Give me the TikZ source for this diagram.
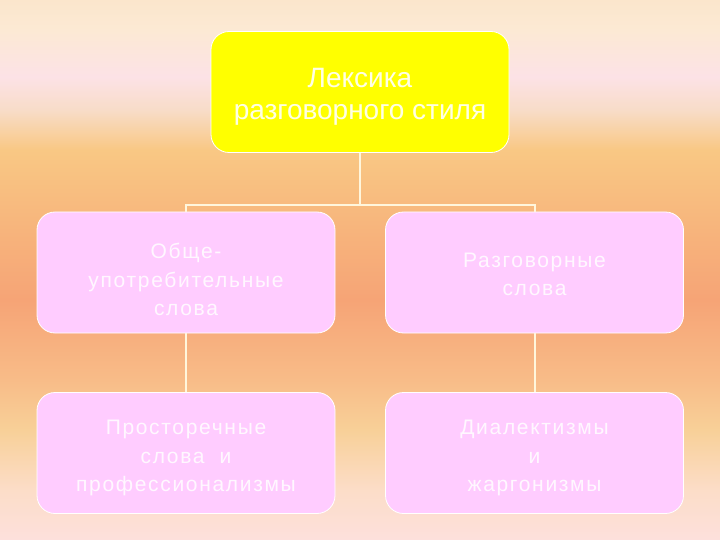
\documentclass[tikz,border=0pt]{standalone}
\usepackage{fontspec}
\setmainfont{Liberation Sans}
\newfontfamily\spacedfont{Liberation Sans}[LetterSpace=8]
\usetikzlibrary{positioning}
\definecolor{gA}{HTML}{FBE6CC}
\definecolor{gB}{HTML}{FCE9D4}
\definecolor{gC}{HTML}{FCE2E6}
\definecolor{gD}{HTML}{F8DCC8}
\definecolor{gE}{HTML}{F9C884}
\definecolor{gF}{HTML}{F7B47C}
\definecolor{gG}{HTML}{F6A476}
\definecolor{gH}{HTML}{F8BC88}
\definecolor{gI}{HTML}{F8D098}
\definecolor{gJ}{HTML}{FCDDC8}
\definecolor{gK}{HTML}{FDE0DC}
\definecolor{boxpink}{HTML}{FFCCFF}
\definecolor{topyellow}{RGB}{255,255,0}
\definecolor{linecol}{HTML}{FFF6DC}
% positions: p = 25 + 50*(540-y)/540
\pgfdeclareverticalshading{bgshade}{100bp}{
  color(0bp)=(gK); color(25bp)=(gK); color(29.63bp)=(gJ); color(35.19bp)=(gI);
  color(39.81bp)=(gH); color(47.22bp)=(gG); color(53.70bp)=(gF); color(61.11bp)=(gE);
  color(64.81bp)=(gD); color(67.87bp)=(gC); color(72.22bp)=(gB); color(75bp)=(gA);
  color(100bp)=(gA)}
\tikzset{
  box/.style={draw=white, line width=0.8pt, rounded corners=18pt, minimum width=298pt,
    minimum height=121pt, inner sep=0pt},
  topbox/.style={box, fill=topyellow},
  pinkbox/.style={box, fill=boxpink},
  toptext/.style={align=center, text=white, text opacity=0.9, inner sep=0pt,
    font=\fontsize{28}{32}\selectfont},
  pinktext/.style={align=center, text=white, text opacity=0.85, inner sep=0pt,
    font=\spacedfont\fontsize{21}{28.5}\selectfont},
  conn/.style={draw=linecol, line width=2pt}
}
\begin{document}
\begin{tikzpicture}[x=1pt,y=-1pt]
\useasboundingbox (0,0) rectangle (720,540);
\shade[shading=bgshade] (0,0) rectangle (720,540);
\node[topbox] (top) at (360,92) {};
\node[pinkbox] (ml) at (186,272.5) {};
\node[pinkbox] (mr) at (534.5,272.5) {};
\node[pinkbox] (bl) at (186,453) {};
\node[pinkbox] (br) at (534.5,453) {};
\node[toptext] (topt) at ([yshift=-5pt]top.center) {Лексика\\разговорного стиля};
\node[pinktext] (mlt) at ([yshift=-7pt]ml.center) {Обще-\\употребительные\\слова};
\node[pinktext] (mrt) at ([yshift=-2pt]mr.center) {Разговорные\\слова};
\node[pinktext] (blt) at ([yshift=-5pt]bl.center) {Просторечные\\слова~ и\\профессионализмы};
\node[pinktext] (brt) at ([yshift=-5pt]br.center) {Диалектизмы\\и\\жаргонизмы};
\coordinate (j) at (360,205);
\draw[conn] (top.south) -- (j);
\draw[conn] (ml.north) -- (ml.north |- j) -- (mr.north |- j) -- (mr.north);
\draw[conn] (ml.south) -- (bl.north);
\draw[conn] (mr.south) -- (br.north);
\end{tikzpicture}
\end{document}
